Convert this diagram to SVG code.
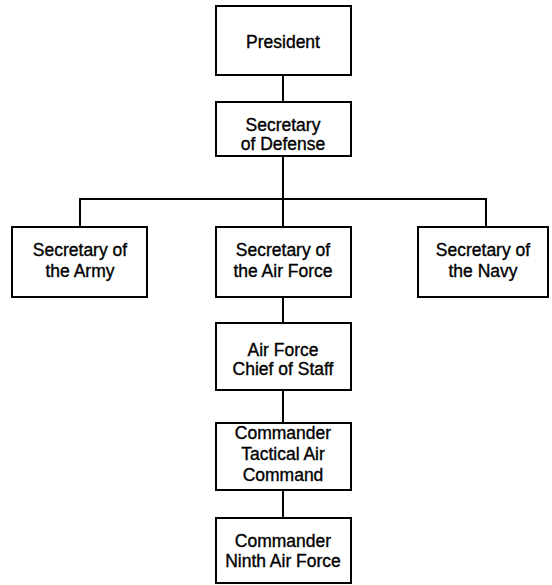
<svg xmlns="http://www.w3.org/2000/svg" width="552" height="585" viewBox="0 0 552 585">
<style>
.box{fill:#fff;stroke:#000;stroke-width:2}
.ln{fill:none;stroke:#000;stroke-width:2}
text{font-family:"Liberation Sans",Arial,sans-serif;font-size:17.5px;fill:#000;stroke:#000;stroke-width:0.35;text-anchor:middle}
</style>
<rect width="552" height="585" fill="#fff"/>
<g id="connectors">
<path class="ln" d="M283 75V102M283 156V227M80 227V199H486V227M283 297V323M283 390V423M283 490V518"/>
</g>
<g id="president"><rect class="box" x="216" y="6" width="135" height="69"/><text x="283" y="48">President</text></g>
<g id="secdef"><rect class="box" x="216" y="102" width="135" height="54"/><text x="283" y="131">Secretary</text><text x="283" y="150">of  Defense</text></g>
<g id="army"><rect class="box" x="12" y="227" width="135" height="70"/><text x="80" y="256">Secretary of</text><text x="80" y="277">the Army</text></g>
<g id="airforce"><rect class="box" x="216" y="227" width="135" height="70"/><text x="283" y="256">Secretary of</text><text x="283" y="277">the Air Force</text></g>
<g id="navy"><rect class="box" x="418" y="227" width="130" height="70"/><text x="483" y="256">Secretary of</text><text x="483" y="277">the Navy</text></g>
<g id="chief"><rect class="box" x="216" y="323" width="135" height="67"/><text x="283" y="356">Air Force</text><text x="283" y="375">Chief of Staff</text></g>
<g id="tac"><rect class="box" x="216" y="423" width="135" height="67"/><text x="283" y="439">Commander</text><text x="283" y="460">Tactical Air</text><text x="283" y="481">Command</text></g>
<g id="ninth"><rect class="box" x="216" y="518" width="135" height="65"/><text x="283" y="547">Commander</text><text x="283" y="567">Ninth Air Force</text></g>
</svg>
